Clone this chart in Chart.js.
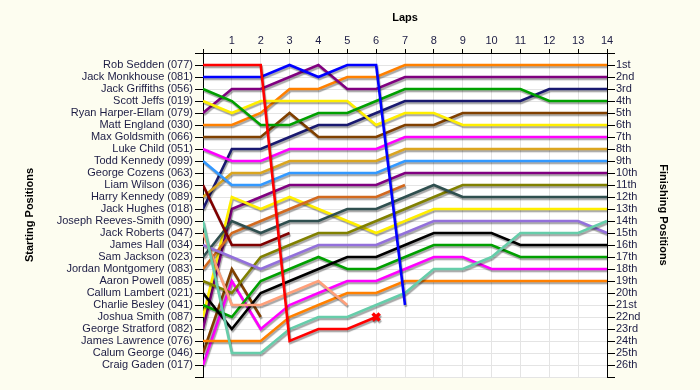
<!DOCTYPE html>
<html>
<head>
<meta charset="utf-8">
<script src="https://cdn.jsdelivr.net/npm/chart.js@4"></script>
<style>
  html, body { margin: 0; padding: 0; background: #fdfdf0; }
  #wrap { width: 700px; height: 390px; }
</style>
</head>
<body>
<div id="wrap"><canvas id="lapChart" width="700" height="390"></canvas></div>
<script>
// === datos de la carrera ===
const laps = [0, 1, 2, 3, 4, 5, 6, 7, 8, 9, 10, 11, 12, 13, 14];

const drivers = [
    "Rob Sedden (077)", "Jack Monkhouse (081)", "Jack Griffiths (056)", "Scott Jeffs (019)",
    "Ryan Harper-Ellam (079)", "Matt England (030)", "Max Goldsmith (066)", "Luke Child (051)",
    "Todd Kennedy (099)", "George Cozens (063)", "Liam Wilson (036)", "Harry Kennedy (089)",
    "Jack Hughes (018)", "Joseph Reeves-Smith (090)", "Jack Roberts (047)", "James Hall (034)",
    "Sam Jackson (023)", "Jordan Montgomery (083)", "Aaron Powell (085)", "Callum Lambert (021)",
    "Charlie Besley (041)", "Joshua Smith (087)", "George Stratford (082)", "James Lawrence (076)",
    "Calum George (046)", "Craig Gaden (017)"
];

const finishLabels = [
    "1st", "2nd", "3rd", "4th", "5th", "6th", "7th", "8th", "9th", "10th", "11th", "12th", "13th",
    "14th", "15th", "16th", "17th", "18th", "19th", "20th", "21st", "22nd", "23rd", "24th", "25th", "26th"
];

// posición en cada vuelta (índice = vuelta), en orden de largada
const posSedden      = [1, 1, 1, 24, 23, 23, 22];
const posMonkhouse   = [2, 2, 2, 1, 2, 1, 1, 21];
const posGriffiths   = [3, 4, 6, 6, 5, 5, 4, 3, 3, 3, 3, 3, 4, 4, 4];
const posJeffs       = [4, 5, 4, 4, 4, 4, 6, 5, 5, 6, 6, 6, 6, 6, 6];
const posHarper      = [5, 3, 3, 2, 1, 3, 3, 2, 2, 2, 2, 2, 2, 2, 2];
const posEngland     = [6, 6, 5, 3, 3, 2, 2, 1, 1, 1, 1, 1, 1, 1, 1];
const posGoldsmith   = [7, 7, 7, 5, 7, 7, 7, 6, 6, 5, 5, 5, 5, 5, 5];
const posChild       = [8, 9, 9, 8, 8, 8, 8, 7, 7, 7, 7, 7, 7, 7, 7];
const posTKennedy    = [9, 11, 11, 10, 10, 10, 10, 9, 9, 9, 9, 9, 9, 9, 9];
const posCozens      = [];
const posWilson      = [11, 16, 16, 15];
const posHKennedy    = [12, 10, 10, 9, 9, 9, 9, 8, 8, 8, 8, 8, 8, 8, 8];
const posHughes      = [13, 8, 8, 7, 6, 6, 5, 4, 4, 4, 4, 4, 3, 3, 3];
const posReeves      = [14, 25, 25, 23, 22, 22, 21, 20, 18, 18, 17, 15, 15, 15, 14];
const posRoberts     = [15, 21, 21, 20, 19, 21];
const posHall        = [16, 17, 18, 17, 16, 16, 16, 15, 14, 14, 14, 14, 14, 14, 15];
const posJackson     = [17, 14, 15, 14, 14, 13, 13, 12, 11, 12, 12, 12, 12, 12, 12];
const posMontgomery  = [18, 15, 14, 13, 12, 12, 12, 11];
const posPowell      = [19, 20, 17, 16, 15, 15, 14, 13, 12, 11, 11, 11, 11, 11, 11];
const posLambert     = [20, 23, 20, 19, 18, 17, 17, 16, 15, 15, 15, 16, 16, 16, 16];
const posBesley      = [21, 22, 19, 18, 17, 18, 18, 17, 16, 16, 16, 17, 17, 17, 17];
const posSmith       = [22, 12, 13, 12, 13, 14, 15, 14, 13, 13, 13, 13, 13, 13, 13];
const posStratford   = [23, 13, 12, 11, 11, 11, 11, 10, 10, 10, 10, 10, 10, 10, 10];
const posLawrence    = [24, 24, 24, 22, 21, 20, 20, 19, 19, 19, 19, 19, 19, 19, 19];
const posGeorge      = [25, 18, 22];
const posGaden       = [26, 19, 23, 21, 20, 19, 19, 18, 17, 17, 18, 18, 18, 18, 18];

const allPositions = [
    posSedden, posMonkhouse, posGriffiths, posJeffs, posHarper, posEngland, posGoldsmith, posChild,
    posTKennedy, posCozens, posWilson, posHKennedy, posHughes, posReeves, posRoberts, posHall,
    posJackson, posMontgomery, posPowell, posLambert, posBesley, posSmith, posStratford, posLawrence,
    posGeorge, posGaden
];

const colores = [
    "#ff0000", "#0000ff", "#00a000", "#ffee00", "#800080", "#ff8000", "#804000", "#ff00ff",
    "#3399ff", "#999999", "#800000", "#daa520", "#191970", "#66cdaa", "#ffa07a", "#9370db",
    "#2f4f4f", "#d2691e", "#808000", "#000000", "#00a000", "#ffee00", "#800080", "#ff8000",
    "#804000", "#ff00ff"
];

// pilotos que abandonaron con marca X en su última vuelta
const retiredMark = ["Rob Sedden (077)"];

const textColor = "#1c1c44";
const fontBase = { family: "'Liberation Sans', Arial, sans-serif", size: 11 };

const datasets = drivers.map((name, i) => {
    const pts = allPositions[i].map((p, lap) => ({ x: laps[lap], y: p }));
    const conX = retiredMark.includes(name);
    return {
        label: name,
        data: pts,
        borderColor: colores[i],
        backgroundColor: colores[i],
        borderWidth: 2.6,
        tension: 0,
        fill: false,
        pointRadius: pts.map((_, k) => (conX && k === pts.length - 1) ? 5 : 0),
        pointStyle: "crossRot",
        pointBorderColor: colores[i],
        pointBorderWidth: 3.5,
        pointHoverRadius: 0
    };
});

// fondo crema + área blanca
const fondo = {
    id: "fondo",
    beforeDraw(chart) {
        const { ctx, chartArea } = chart;
        ctx.save();
        ctx.fillStyle = "#fdfdf0";
        ctx.fillRect(0, 0, chart.width, chart.height);
        ctx.fillStyle = "#ffffff";
        ctx.fillRect(chartArea.left, chartArea.top, chartArea.right - chartArea.left, chartArea.bottom - chartArea.top);
        ctx.restore();
    }
};

// sombra gris bajo cada línea
const sombra = {
    id: "sombra",
    beforeDatasetDraw(chart) {
        const c = chart.ctx;
        c.save();
        c.shadowColor = "rgba(0,0,0,0.35)";
        c.shadowOffsetX = 1;
        c.shadowOffsetY = 2;
        c.shadowBlur = 1;
    },
    afterDatasetDraw(chart) {
        chart.ctx.restore();
    }
};

new Chart(document.getElementById("lapChart"), {
    type: "line",
    data: { datasets: datasets },
    plugins: [fondo, sombra],
    options: {
        responsive: false,
        animation: false,
        layout: { padding: { left: 19, right: 26, top: 7, bottom: 13 } },
        plugins: { legend: { display: false }, tooltip: { enabled: false } },
        scales: {
            x: {
                type: "linear",
                position: "top",
                min: 0,
                max: 14,
                afterFit(s) { s.height = 46; },
                ticks: {
                    stepSize: 1,
                    autoSkip: false,
                    maxRotation: 0,
                    padding: 1,
                    color: textColor,
                    font: fontBase,
                    callback: v => (v === 0 ? "" : String(v))
                },
                grid: { color: "#e4e4e4", tickColor: "#000", tickLength: 4 },
                border: { color: "#000", width: 1 },
                title: { display: true, text: "Laps", color: "#000", font: { ...fontBase, weight: "bold" } }
            },
            y: {
                type: "linear",
                position: "left",
                reverse: true,
                min: 0,
                max: 27,
                afterFit(s) { s.width = 184; },
                ticks: {
                    stepSize: 1,
                    autoSkip: false,
                    padding: 2,
                    color: textColor,
                    font: fontBase,
                    callback: v => (v >= 1 && v <= drivers.length ? drivers[v - 1] : "")
                },
                grid: { color: "#e4e4e4", tickColor: "#000", tickLength: 8 },
                border: { color: "#000", width: 1 },
                title: { display: true, text: "Starting Positions", color: "#000", font: { ...fontBase, weight: "bold" } }
            },
            y2: {
                type: "linear",
                position: "right",
                reverse: true,
                min: 0,
                max: 27,
                afterFit(s) { s.width = 67; },
                ticks: {
                    stepSize: 1,
                    autoSkip: false,
                    padding: 1,
                    color: textColor,
                    font: fontBase,
                    callback: v => (v >= 1 && v <= finishLabels.length ? finishLabels[v - 1] : "")
                },
                grid: { drawOnChartArea: false, tickColor: "#000", tickLength: 8 },
                border: { color: "#000", width: 1 },
                title: { display: true, text: "Finishing Positions", color: "#000", font: { ...fontBase, weight: "bold" } }
            }
        }
    }
});
</script>
</body>
</html>
